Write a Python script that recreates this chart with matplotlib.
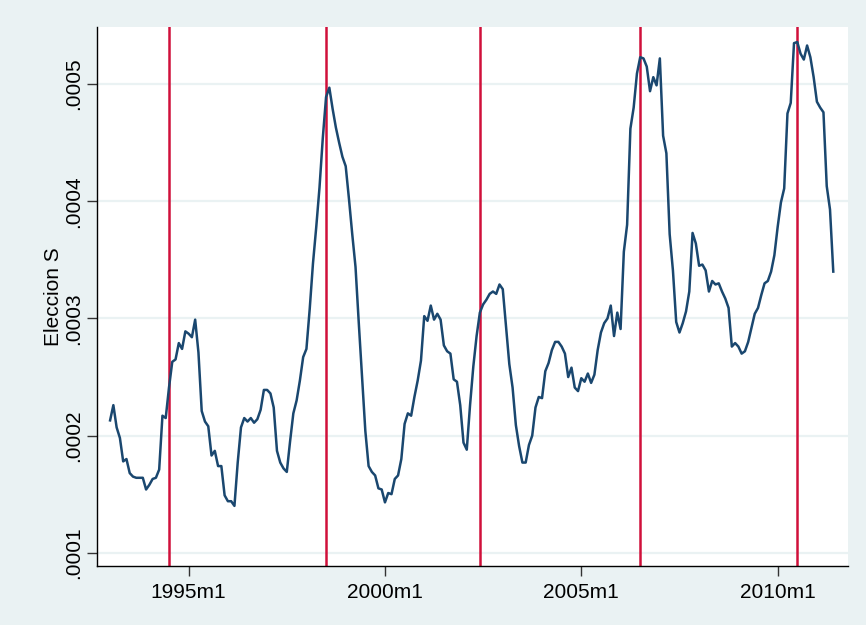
import numpy as np
import matplotlib.pyplot as plt

# Stata monthly index (1960m1 = 0): 1993m1 .. 2011m6
start_month = 396
# Eleccion S, in units of 1e-4
eleccion_e4 = [
    2.13, 2.26, 2.07, 1.98, 1.78, 1.80, 1.68, 1.65, 1.64, 1.64, 1.64, 1.54,
    1.58, 1.63, 1.64, 1.71, 2.17, 2.15, 2.41, 2.63, 2.65, 2.79, 2.74, 2.89,
    2.87, 2.84, 2.99, 2.71, 2.21, 2.12, 2.08, 1.83, 1.87, 1.74, 1.74, 1.49,
    1.44, 1.44, 1.40, 1.77, 2.07, 2.15, 2.12, 2.15, 2.11, 2.14, 2.22, 2.39,
    2.39, 2.36, 2.24, 1.87, 1.77, 1.72, 1.69, 1.95, 2.19, 2.30, 2.47, 2.67,
    2.74, 3.08, 3.47, 3.78, 4.12, 4.54, 4.89, 4.97, 4.79, 4.63, 4.50, 4.38,
    4.30, 4.02, 3.72, 3.44, 2.96, 2.50, 2.04, 1.74, 1.69, 1.66, 1.55, 1.54,
    1.43, 1.51, 1.50, 1.63, 1.66, 1.80, 2.10, 2.19, 2.17, 2.33, 2.47, 2.64,
    3.02, 2.98, 3.11, 2.99, 3.04, 2.99, 2.77, 2.72, 2.70, 2.48, 2.46, 2.26,
    1.94, 1.88, 2.26, 2.59, 2.85, 3.05, 3.12, 3.16, 3.21, 3.23, 3.21, 3.29,
    3.25, 2.93, 2.61, 2.41, 2.09, 1.91, 1.77, 1.77, 1.92, 2.00, 2.24, 2.33,
    2.32, 2.55, 2.62, 2.73, 2.80, 2.80, 2.76, 2.70, 2.50, 2.58, 2.41, 2.38,
    2.49, 2.46, 2.53, 2.45, 2.52, 2.73, 2.88, 2.96, 3.00, 3.11, 2.85, 3.05,
    2.91, 3.57, 3.80, 4.62, 4.80, 5.09, 5.23, 5.22, 5.15, 4.94, 5.06, 4.99,
    5.22, 4.56, 4.41, 3.72, 3.41, 2.97, 2.88, 2.96, 3.06, 3.23, 3.73, 3.64,
    3.45, 3.46, 3.41, 3.23, 3.32, 3.29, 3.30, 3.23, 3.17, 3.09, 2.76, 2.79,
    2.76, 2.70, 2.72, 2.80, 2.92, 3.04, 3.09, 3.20, 3.30, 3.32, 3.40, 3.54,
    3.78, 3.99, 4.11, 4.75, 4.84, 5.35, 5.36, 5.26, 5.21, 5.33, 5.23, 5.06,
    4.85, 4.80, 4.76, 4.13, 3.93, 3.40,
]
# vertical markers: 1994m7, 1998m7, 2002m6, 2006m7, 2010m7
event_months = [414, 462, 509, 558, 606]

xtick_pos = [420, 480, 540, 600]
xtick_labels = ['1995m1', '2000m1', '2005m1', '2010m1']
ytick_pos = [0.0001, 0.0002, 0.0003, 0.0004, 0.0005]
ytick_labels = ['.0001', '.0002', '.0003', '.0004', '.0005']

bg = '#EAF2F3'
navy = '#1A476F'
red = '#D0103A'


def main():
    months = start_month + np.arange(len(eleccion_e4))
    vals = np.array(eleccion_e4) * 1e-4

    plt.rcParams['font.family'] = ['Liberation Sans', 'DejaVu Sans']
    fig = plt.figure(figsize=(8.66, 6.25), dpi=100, facecolor=bg)
    ax = fig.add_axes([97 / 866, 1 - 566 / 625, 751 / 866, 539 / 625])
    ax.set_facecolor('white')

    for y in ytick_pos:
        ax.axhline(y, color=bg, lw=1.6, zorder=1)
    for m in event_months:
        ax.axvline(m, color=red, lw=1.8, zorder=2)
    ax.plot(months, vals, color=navy, lw=1.8, zorder=3)

    ax.set_xlim(392, 621.5)
    ax.set_ylim(0.0000887, 0.0005488)

    ax.set_xticks(xtick_pos)
    ax.set_xticklabels(xtick_labels, fontsize=15)
    ax.set_yticks(ytick_pos)
    ax.set_yticklabels(ytick_labels, fontsize=15, rotation=90, va='center')
    ax.tick_params(axis='x', length=7, width=1, color='#333333', pad=5)
    ax.tick_params(axis='y', length=7, width=1, color='#333333', pad=3)
    ax.set_ylabel('Eleccion S', fontsize=15, labelpad=1)

    for side in ['top', 'right']:
        ax.spines[side].set_visible(False)
    for side in ['left', 'bottom']:
        ax.spines[side].set_linewidth(1.0)
        ax.spines[side].set_color('black')

    fig.savefig('out.png', dpi=100, facecolor=bg)


if __name__ == "__main__":
    main()
